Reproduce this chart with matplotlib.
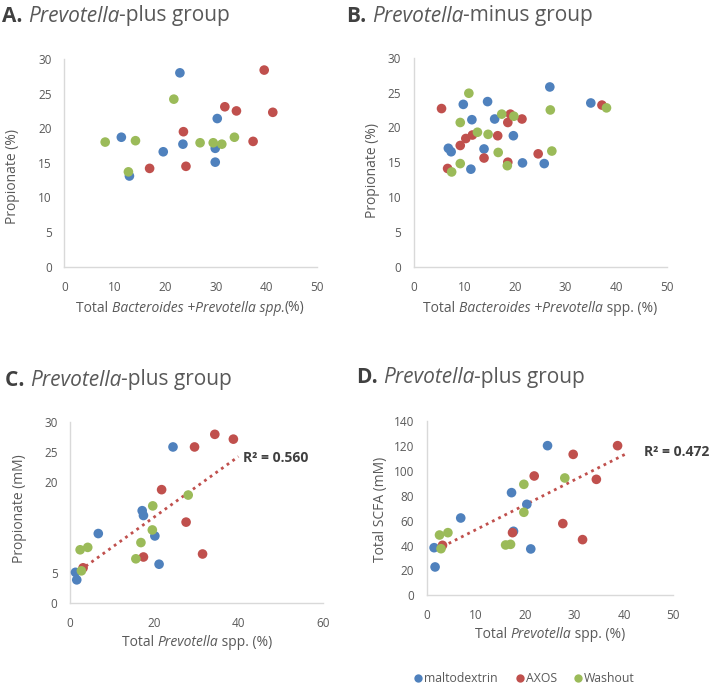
import numpy as np
import matplotlib
matplotlib.use("Agg")
import matplotlib.pyplot as plt
from matplotlib.lines import Line2D

plt.rcParams['font.family'] = ['Open Sans', 'DejaVu Sans']

W, H = 709, 683
BLUE, RED, GREEN = '#4F81BD', '#C0504D', '#9BBB59'
TXT = '#595959'
SPINE = '#D9D9D9'

groups = ['maltodextrin', 'AXOS', 'Washout']

# A. Prevotella-plus group, propionate (%) vs total Bacteroides + Prevotella (%)
a_x = {
    'maltodextrin': [11.3, 12.9, 19.6, 22.9, 23.5, 29.9, 29.9, 30.3],
    'AXOS': [16.9, 23.6, 24.1, 31.8, 34.1, 39.6, 37.4, 41.3],
    'Washout': [8.1, 12.7, 14.1, 21.7, 26.9, 29.5, 31.2, 33.7],
}
a_y = {
    'maltodextrin': [18.7, 13.1, 16.6, 28.0, 17.7, 17.1, 15.1, 21.4],
    'AXOS': [14.2, 19.5, 14.5, 23.1, 22.5, 28.4, 18.1, 22.3],
    'Washout': [18.0, 13.7, 18.2, 24.2, 17.9, 17.9, 17.7, 18.7],
}

# B. Prevotella-minus group
b_x = {
    'maltodextrin': [6.85, 7.4, 9.8, 11.5, 11.3, 13.9, 14.6, 16.0, 19.7, 21.5, 25.8, 26.9, 35.0],
    'AXOS': [5.5, 6.7, 9.2, 10.3, 11.6, 13.9, 16.6, 18.6, 19.1, 21.4, 18.6, 24.6, 37.2],
    'Washout': [7.5, 9.2, 9.2, 10.9, 12.6, 14.7, 16.7, 17.4, 19.8, 18.5, 27.0, 27.3, 38.1],
}
b_y = {
    'maltodextrin': [17.0, 16.5, 23.3, 21.1, 14.0, 16.9, 23.7, 21.2, 18.8, 14.9, 14.8, 25.8, 23.5],
    'AXOS': [22.7, 14.1, 17.4, 18.4, 18.9, 15.6, 18.8, 20.7, 21.9, 21.2, 15.0, 16.2, 23.2],
    'Washout': [13.6, 14.8, 20.7, 24.9, 19.3, 19.0, 16.4, 21.9, 21.6, 14.5, 22.5, 16.6, 22.8],
}

# C. Prevotella-plus group, propionate (mM) vs total Prevotella (%)
c_x = {
    'maltodextrin': [1.3, 1.6, 6.7, 17.1, 17.4, 20.1, 21.1, 24.4],
    'AXOS': [3.1, 17.4, 21.7, 27.5, 29.5, 31.4, 34.3, 38.7],
    'Washout': [2.4, 4.2, 2.7, 15.6, 16.8, 19.5, 19.6, 28.0],
}
c_y = {
    'maltodextrin': [5.05, 3.8, 11.5, 15.3, 14.5, 11.1, 6.4, 25.9],
    'AXOS': [5.8, 7.6, 18.8, 13.4, 25.9, 8.1, 28.0, 27.2],
    'Washout': [8.8, 9.2, 5.3, 7.3, 10.0, 12.1, 16.1, 17.9],
}
c_trend_x = [2.4, 39.9]
c_trend_y = [5.4, 24.3]
c_r2 = 'R² = 0.560'

# D. Prevotella-plus group, total SCFA (mM) vs total Prevotella (%)
d_x = {
    'maltodextrin': [1.5, 1.7, 6.9, 17.2, 17.6, 20.3, 21.1, 24.5],
    'AXOS': [3.2, 17.4, 21.8, 27.6, 29.7, 31.6, 34.4, 38.7],
    'Washout': [2.6, 4.3, 2.9, 16.0, 17.0, 19.7, 19.7, 28.0],
}
d_y = {
    'maltodextrin': [38.3, 22.8, 62.2, 82.6, 51.5, 73.2, 37.3, 120.4],
    'AXOS': [40.2, 50.4, 96.0, 57.7, 113.4, 44.8, 93.3, 120.4],
    'Washout': [48.5, 50.4, 37.5, 40.5, 41.0, 89.3, 66.8, 94.4],
}
d_trend_x = [3.2, 40.9]
d_trend_y = [39.2, 114.8]
d_r2 = 'R² = 0.472'

colors = {'maltodextrin': BLUE, 'AXOS': RED, 'Washout': GREEN}

fig = plt.figure(figsize=(W / 100, H / 100), dpi=100)
renderer = fig.canvas.get_renderer()


def px_axes(x0, x1, ytop, ybot):
    # axes from pixel box (top-left origin)
    return fig.add_axes([x0 / W, 1 - ybot / H, (x1 - x0) / W, (ybot - ytop) / H])


def rich_text(x, y, pieces, size, ha='left'):
    # pieces: list of (text, style, weight, color); x,y in pixels from top-left
    objs = []
    for s, style, weight, col in pieces:
        t = fig.text(0, 1 - y / H, s, fontsize=size, style=style, weight=weight,
                     color=col, va='center', ha='left')
        objs.append(t)
    widths = [t.get_window_extent(renderer).width for t in objs]
    total = sum(widths)
    start = x - total / 2 if ha == 'center' else x
    cur = start
    for t, w in zip(objs, widths):
        t.set_x(cur / W)
        cur += w


def style_axes(ax, xlim, ylim, xticks, yticks):
    ax.set_xlim(*xlim)
    ax.set_ylim(*ylim)
    ax.set_xticks(xticks)
    ax.set_yticks(yticks)
    for s in ['top', 'right']:
        ax.spines[s].set_visible(False)
    for s in ['left', 'bottom']:
        ax.spines[s].set_color(SPINE)
        ax.spines[s].set_linewidth(1.0)
    ax.tick_params(length=0, labelsize=8.5, labelcolor=TXT)
    ax.tick_params(axis='y', pad=9)
    ax.tick_params(axis='x', pad=10)
    ax.patch.set_visible(False)


def scatter_groups(ax, xs, ys):
    for g in groups:
        ax.scatter(xs[g], ys[g], s=48, color=colors[g], edgecolors='none',
                   zorder=3, clip_on=False)


# panel A
axA = px_axes(64.3, 316.7, 59, 266.7)
scatter_groups(axA, a_x, a_y)
style_axes(axA, (0, 50), (0, 30), range(0, 51, 10), range(0, 31, 5))

# panel B
axB = px_axes(413.7, 666.7, 57.7, 266.7)
scatter_groups(axB, b_x, b_y)
style_axes(axB, (0, 50), (0, 30), range(0, 51, 10), range(0, 31, 5))

# panel C
axC = px_axes(70, 323.3, 422.3, 602.7)
axC.plot(c_trend_x, c_trend_y, ls=(0, (1, 1.5)), color=RED, lw=2, zorder=2)
scatter_groups(axC, c_x, c_y)
style_axes(axC, (0, 60), (0, 30), range(0, 61, 20), [0, 5, 20, 25, 30])
axC.text(40.9, 24.0, c_r2, fontsize=10, weight='bold', color='#404040',
         va='center', ha='left')

# panel D
axD = px_axes(426.7, 673.3, 421.3, 595.3)
axD.plot(d_trend_x, d_trend_y, ls=(0, (1, 1.5)), color=RED, lw=2, zorder=2)
scatter_groups(axD, d_x, d_y)
style_axes(axD, (0, 50), (0, 140), range(0, 51, 10), range(0, 141, 20))
axD.text(44.1, 115, d_r2, fontsize=10, weight='bold', color='#404040',
         va='center', ha='left', clip_on=False)

# titles
TS = 15
DARK = '#404040'
rich_text(2, 16, [('A. ', 'normal', 'bold', DARK), ('Prevotella', 'italic', 'normal', TXT),
                  ('-plus group', 'normal', 'normal', TXT)], TS)
rich_text(347, 16, [('B. ', 'normal', 'bold', DARK), ('Prevotella', 'italic', 'normal', TXT),
                    ('-minus group', 'normal', 'normal', TXT)], TS)
rich_text(5, 380, [('C. ', 'normal', 'bold', DARK), ('Prevotella', 'italic', 'normal', TXT),
                   ('-plus group', 'normal', 'normal', TXT)], TS)
rich_text(357, 377, [('D. ', 'normal', 'bold', DARK), ('Prevotella', 'italic', 'normal', TXT),
                     ('-plus group', 'normal', 'normal', TXT)], TS)

# axis labels
LS = 10
rich_text(190, 308, [('Total ', 'normal', 'normal', TXT), ('Bacteroides +Prevotella spp.', 'italic', 'normal', TXT),
                     ('(%)', 'normal', 'normal', TXT)], LS, ha='center')
rich_text(540, 308, [('Total ', 'normal', 'normal', TXT), ('Bacteroides +Prevotella', 'italic', 'normal', TXT),
                     (' spp. (%)', 'normal', 'normal', TXT)], LS, ha='center')
rich_text(197, 643, [('Total ', 'normal', 'normal', TXT), ('Prevotella', 'italic', 'normal', TXT),
                     (' spp. (%)', 'normal', 'normal', TXT)], LS, ha='center')
rich_text(550, 635, [('Total ', 'normal', 'normal', TXT), ('Prevotella', 'italic', 'normal', TXT),
                     (' spp. (%)', 'normal', 'normal', TXT)], LS, ha='center')

for x, y, s in [(13, 177, 'Propionate (%)'), (372, 170, 'Propionate (%)'),
                (20, 509, 'Propionate (mM)'), (380, 509, 'Total SCFA (mM)')]:
    fig.text(x / W, 1 - y / H, s, rotation=90, fontsize=LS, color=TXT,
             ha='center', va='center')

# legend, laid out by hand to match the original spacing
leg_x = [418, 520, 578]
leg_y = 678
for g, lx in zip(groups, leg_x):
    fig.add_artist(Line2D([lx / W], [1 - leg_y / H], ls='none', marker='o',
                          markersize=6, color=colors[g], markeredgecolor='none'))
    fig.text((lx + 6) / W, 1 - leg_y / H, g, fontsize=8.8, color=TXT,
             ha='left', va='center')

fig.savefig('out.png', dpi=100)
